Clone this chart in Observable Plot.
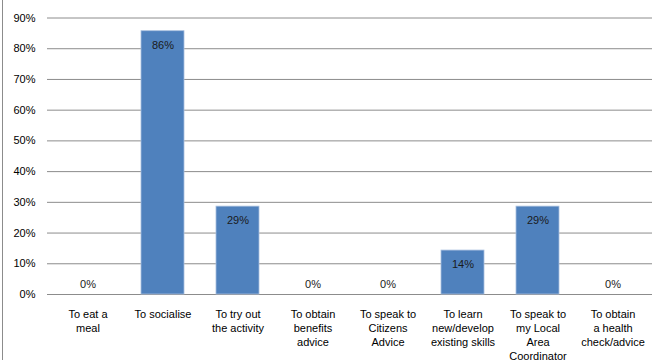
<!DOCTYPE html>
<html>
<head>
<meta charset="utf-8">
<script src="https://cdn.jsdelivr.net/npm/d3@7"></script>
<script src="https://cdn.jsdelivr.net/npm/@observablehq/plot@0.6"></script>
<style>
  html, body { margin: 0; padding: 0; background: #fff; }
  #wrap { position: relative; width: 661px; height: 360px; overflow: hidden; }
  #border { position: absolute; left: 2px; top: 0; width: 0; height: 360px; border-left: 1px solid #8c8c8c; }
  #wrap svg { position: absolute; left: 0; top: 0; }
</style>
</head>
<body>
<div id="wrap"><div id="border"></div></div>
<script>
const categories = [
  "To eat a\nmeal",
  "To socialise",
  "To try out\nthe activity",
  "To obtain\nbenefits\nadvice",
  "To speak to\nCitizens\nAdvice",
  "To learn\nnew/develop\nexisting skills",
  "To speak to\nmy Local\nArea\nCoordinator",
  "To obtain\na health\ncheck/advice"
];
const values = [0, 0.857, 0.286, 0, 0, 0.143, 0.286, 0];
const yTicks = [0, 0.1, 0.2, 0.3, 0.4, 0.5, 0.6, 0.7, 0.8, 0.9];

const data = categories.map((c, i) => ({cat: c, value: values[i]}));
const pct = d3.format(".0%");

const chart = Plot.plot({
  width: 661,
  height: 360,
  marginLeft: 47,
  marginRight: 9,
  marginTop: 17.5,
  marginBottom: 66,
  style: {fontFamily: "'Liberation Sans', Arial, sans-serif", fontSize: "11px", color: "#000", background: "transparent"},
  x: {domain: categories, paddingInner: 0.432, paddingOuter: 0.216, label: null},
  y: {domain: [0, 0.9], label: null},
  marks: [
    Plot.gridY(yTicks, {stroke: "#8c8c8c", strokeOpacity: 1}),
    Plot.barY(data, {x: "cat", y: "value", fill: "#4F81BD", stroke: "#a7bfde", strokeWidth: 0.8}),
    Plot.text(data.filter(d => d.value > 0), {x: "cat", y: "value", text: d => pct(d.value), dy: 14, fill: "#1a1a1a"}),
    Plot.text(data.filter(d => d.value === 0), {x: "cat", y: "value", text: d => pct(d.value), dy: -10.5, fill: "#1a1a1a"}),
    Plot.axisX({tickSize: 0, tickPadding: 13.5, lineHeight: 1.27, label: null}),
    Plot.axisY(yTicks, {tickSize: 0, tickPadding: 12, tickFormat: pct, label: null})
  ]
});
document.getElementById("wrap").appendChild(chart);
</script>
</body>
</html>
